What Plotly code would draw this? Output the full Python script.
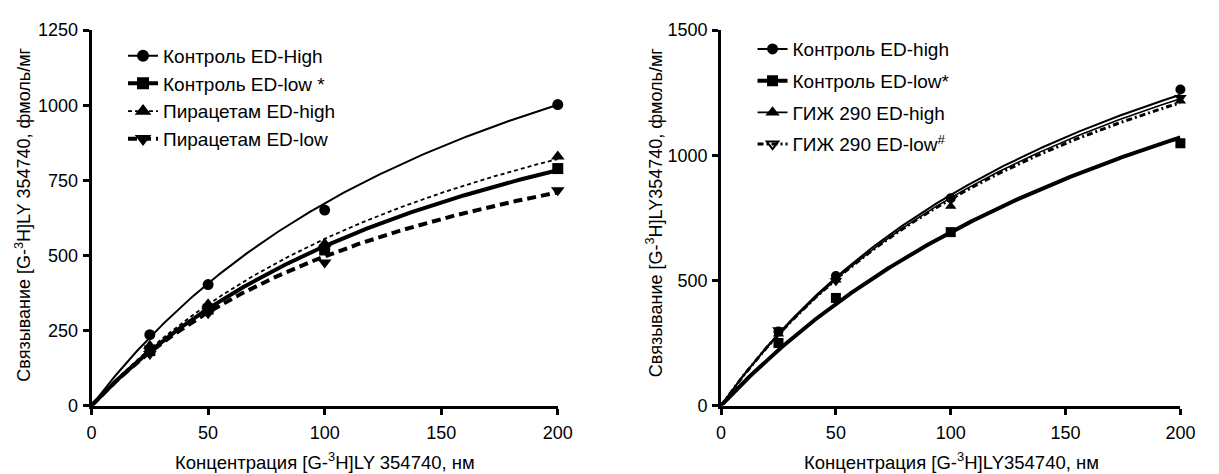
import numpy as np
import plotly.graph_objects as go

# ---------------- data ----------------
conc = [25, 50, 100, 200]

# left panel
left_names = ["Контроль ED-High", "Контроль ED-low *", "Пирацетам ED-high", "Пирацетам ED-low"]
left_ctrl_high = [236, 403, 651, 1002]
left_ctrl_low = [183, 321, 518, 789]
left_pir_high = [199, 337, 539, 829]
left_pir_low = [172, 307, 476, 717]
# one-site binding fit parameters (Bmax, Kd)
left_bmax = [1953, 1497, 1576, 1242]
left_kd = [190, 182, 184, 150]

# right panel
right_names = ["Контроль ED-high", "Контроль ED-low*", "ГИЖ 290 ED-high", "ГИЖ 290 ED-low<sup>#</sup>"]
right_ctrl_high = [296, 518, 828, 1263]
right_ctrl_low = [250, 430, 693, 1048]
right_gij_high = [286, 502, 796, 1217]
right_gij_low = [302, 499, 823, 1230]
right_bmax = [2366, 2356, 2341, 2269]
right_kd = [181, 240, 182, 175]

left_yticks = [0, 250, 500, 750, 1000, 1250]
right_yticks = [0, 500, 1000, 1500]
xticks = [0, 50, 100, 150, 200]

# ---------------- styles ----------------
FONT = "Liberation Sans, Arial, sans-serif"
W, H = 1219, 474

left_styles = [
    dict(symbol="circle", size=11, lw=2, dash="solid", lsym="circle"),
    dict(symbol="square", size=11, lw=4, dash="solid", lsym="square"),
    dict(symbol="triangle-up", size=12, lw=1.8, dash="4px,3px", lsym="triangle-up"),
    dict(symbol="triangle-down", size=12, lw=4, dash="9px,5px", lsym="triangle-down"),
]
right_styles = [
    dict(symbol="circle", size=10, lw=2, dash="solid", lsym="circle"),
    dict(symbol="square", size=10, lw=4, dash="solid", lsym="square"),
    dict(symbol="triangle-up", size=10, lw=1.6, dash="solid", lsym="triangle-up"),
    dict(symbol="triangle-down", size=11, lw=3, dash="6px,3px,2px,3px", lsym="triangle-down-open"),
]

fig = go.Figure()

xs = np.linspace(0, 200, 201)


def add_panel(names, series, bmax, kd, styles, xa, ya, legend):
    for name, vals, b, k, st in zip(names, series, bmax, kd, styles):
        curve = b * xs / (k + xs)
        fig.add_trace(go.Scatter(
            x=xs, y=curve, mode="lines", xaxis=xa, yaxis=ya,
            line=dict(color="black", width=st["lw"], dash=st["dash"]),
            showlegend=False, hoverinfo="skip"))
        fig.add_trace(go.Scatter(
            x=conc, y=vals, mode="markers", xaxis=xa, yaxis=ya,
            marker=dict(color="black", size=st["size"], symbol=st["symbol"]),
            showlegend=False, cliponaxis=False))
        fig.add_trace(go.Scatter(
            x=[None], y=[None], mode="lines+markers", xaxis=xa, yaxis=ya,
            name=name, legend=legend, legendgroup=legend + name,
            line=dict(color="black", width=st["lw"], dash=st["dash"]),
            marker=dict(color="black", size=st["size"] - 1, symbol=st["lsym"],
                        line=dict(color="black", width=2))))


add_panel(left_names, [left_ctrl_high, left_ctrl_low, left_pir_high, left_pir_low],
          left_bmax, left_kd, left_styles, "x", "y", "legend")
add_panel(right_names, [right_ctrl_high, right_ctrl_low, right_gij_high, right_gij_low],
          right_bmax, right_kd, right_styles, "x2", "y2", "legend2")


def px_x(p):
    return p / W


def px_y(p):
    return 1 - p / H


ydom = [px_y(413), px_y(21)]

axis_common = dict(showline=True, linecolor="black", linewidth=3, ticks="outside",
                   ticklen=6, tickwidth=2.5, tickcolor="black", showgrid=False,
                   zeroline=False, tickfont=dict(family=FONT, size=18, color="black"))

fig.update_layout(
    width=W, height=H, margin=dict(l=0, r=0, t=0, b=0),
    paper_bgcolor="white", plot_bgcolor="white",
    font=dict(family=FONT, color="black"),
    xaxis=dict(domain=[px_x(88), px_x(562)], range=[0, 200], tickvals=xticks,
               anchor="y", ticklabelstandoff=3, **axis_common),
    yaxis=dict(domain=ydom, range=[0, 1250], tickvals=left_yticks, anchor="x",
               ticklabelstandoff=1, **axis_common),
    xaxis2=dict(domain=[px_x(728), px_x(1195)], range=[0, 200], tickvals=xticks,
                anchor="y2", ticklabelstandoff=3, **axis_common),
    yaxis2=dict(domain=ydom, range=[0, 1500], tickvals=right_yticks, anchor="x2",
                ticklabelstandoff=1, **axis_common),
    legend=dict(x=px_x(120), y=px_y(28), xanchor="left", yanchor="top",
                font=dict(family=FONT, size=19, color="black"),
                bgcolor="rgba(0,0,0,0)", tracegroupgap=0, traceorder="grouped"),
    legend2=dict(x=px_x(760), y=px_y(21), xanchor="left", yanchor="top",
                 font=dict(family=FONT, size=19, color="black"),
                 bgcolor="rgba(0,0,0,0)", tracegroupgap=4, traceorder="grouped"),
    showlegend=True,
)

ann = [
    dict(text="Концентрация [G-<sup>3</sup>H]LY 354740, нм", x=px_x(325), y=px_y(471), size=18.5),
    dict(text="Концентрация [G-<sup>3</sup>H]LY354740, нм", x=px_x(962), y=px_y(471), size=18.5),
    dict(text="Связывание [G-<sup>3</sup>H]LY 354740, фмоль/мг", x=px_x(19), y=px_y(214),
         textangle=-90, size=18),
    dict(text="Связывание [G-<sup>3</sup>H]LY354740, фмоль/мг", x=px_x(660), y=px_y(212),
         textangle=-90, size=18),
]
for a in ann:
    size = a.pop("size")
    fig.add_annotation(xref="paper", yref="paper", showarrow=False,
                       xanchor="center", yanchor="middle",
                       font=dict(family=FONT, size=size, color="black"), **a)

fig.write_html("out.html")
